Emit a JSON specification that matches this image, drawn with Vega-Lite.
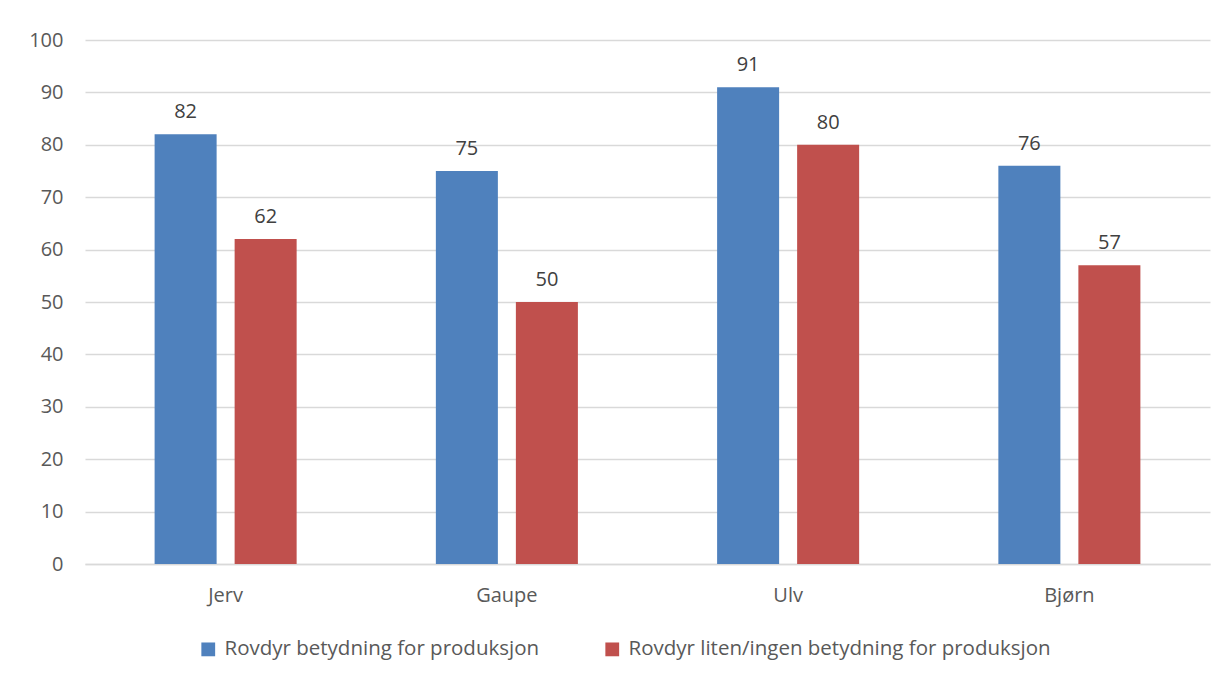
{
  "$schema": "https://vega.github.io/schema/vega-lite/v6.json",
  "width": 1125,
  "height": 524,
  "autosize": {"type": "none"},
  "padding": {"left": 85, "top": 40, "right": 19, "bottom": 115},
  "background": "white",
  "config": {
    "view": {"stroke": null},
    "font": "Open Sans"
  },
  "data": {
    "values": [
      {"dyr": "Jerv", "serie": "Rovdyr betydning for produksjon", "verdi": 82},
      {"dyr": "Jerv", "serie": "Rovdyr liten/ingen betydning for produksjon", "verdi": 62},
      {"dyr": "Gaupe", "serie": "Rovdyr betydning for produksjon", "verdi": 75},
      {"dyr": "Gaupe", "serie": "Rovdyr liten/ingen betydning for produksjon", "verdi": 50},
      {"dyr": "Ulv", "serie": "Rovdyr betydning for produksjon", "verdi": 91},
      {"dyr": "Ulv", "serie": "Rovdyr liten/ingen betydning for produksjon", "verdi": 80},
      {"dyr": "Bjørn", "serie": "Rovdyr betydning for produksjon", "verdi": 76},
      {"dyr": "Bjørn", "serie": "Rovdyr liten/ingen betydning for produksjon", "verdi": 57}
    ]
  },
  "encoding": {
    "x": {
      "field": "dyr", "type": "nominal", "sort": ["Jerv", "Gaupe", "Ulv", "Bjørn"],
      "scale": {"paddingInner": 0.495, "paddingOuter": 0.2475},
      "axis": {"title": null, "labelAngle": 0, "ticks": false, "domain": true, "domainColor": "#d9d9d9", "domainWidth": 1.5, "labelPadding": 21, "grid": false, "labelFontSize": 20, "labelColor": "#595959", "labelFont": "Open Sans"}
    },
    "xOffset": {
      "field": "serie", "type": "nominal",
      "scale": {"paddingInner": 0.225, "paddingOuter": 0}
    },
    "y": {
      "field": "verdi", "type": "quantitative",
      "scale": {"domain": [0, 100], "nice": false},
      "axis": {"title": null, "values": [0,10,20,30,40,50,60,70,80,90,100], "labelOverlap": false, "ticks": false, "domain": false, "gridColor": "#d9d9d9", "gridWidth": 1.5, "labelPadding": 22, "labelFontSize": 20, "labelColor": "#595959", "labelFont": "Open Sans"}
    }
  },
  "layer": [
    {
      "mark": {"type": "bar"},
      "encoding": {
        "color": {
          "field": "serie", "type": "nominal",
          "scale": {"domain": ["Rovdyr betydning for produksjon", "Rovdyr liten/ingen betydning for produksjon"], "range": ["#4f81bd", "#c0504d"]},
          "legend": {"title": null, "orient": "none", "legendX": 113, "legendY": 599, "direction": "horizontal", "symbolType": "square", "symbolSize": 190, "symbolStrokeWidth": 0, "columnPadding": 62, "labelOffset": 6, "labelLimit": 0, "labelFontSize": 20.5, "labelColor": "#595959", "labelFont": "Open Sans"}
        }
      }
    },
    {
      "mark": {"type": "text", "baseline": "bottom", "dy": -12, "fontSize": 20, "color": "#404040", "font": "Open Sans"},
      "encoding": {"text": {"field": "verdi", "type": "quantitative"}}
    }
  ]
}
